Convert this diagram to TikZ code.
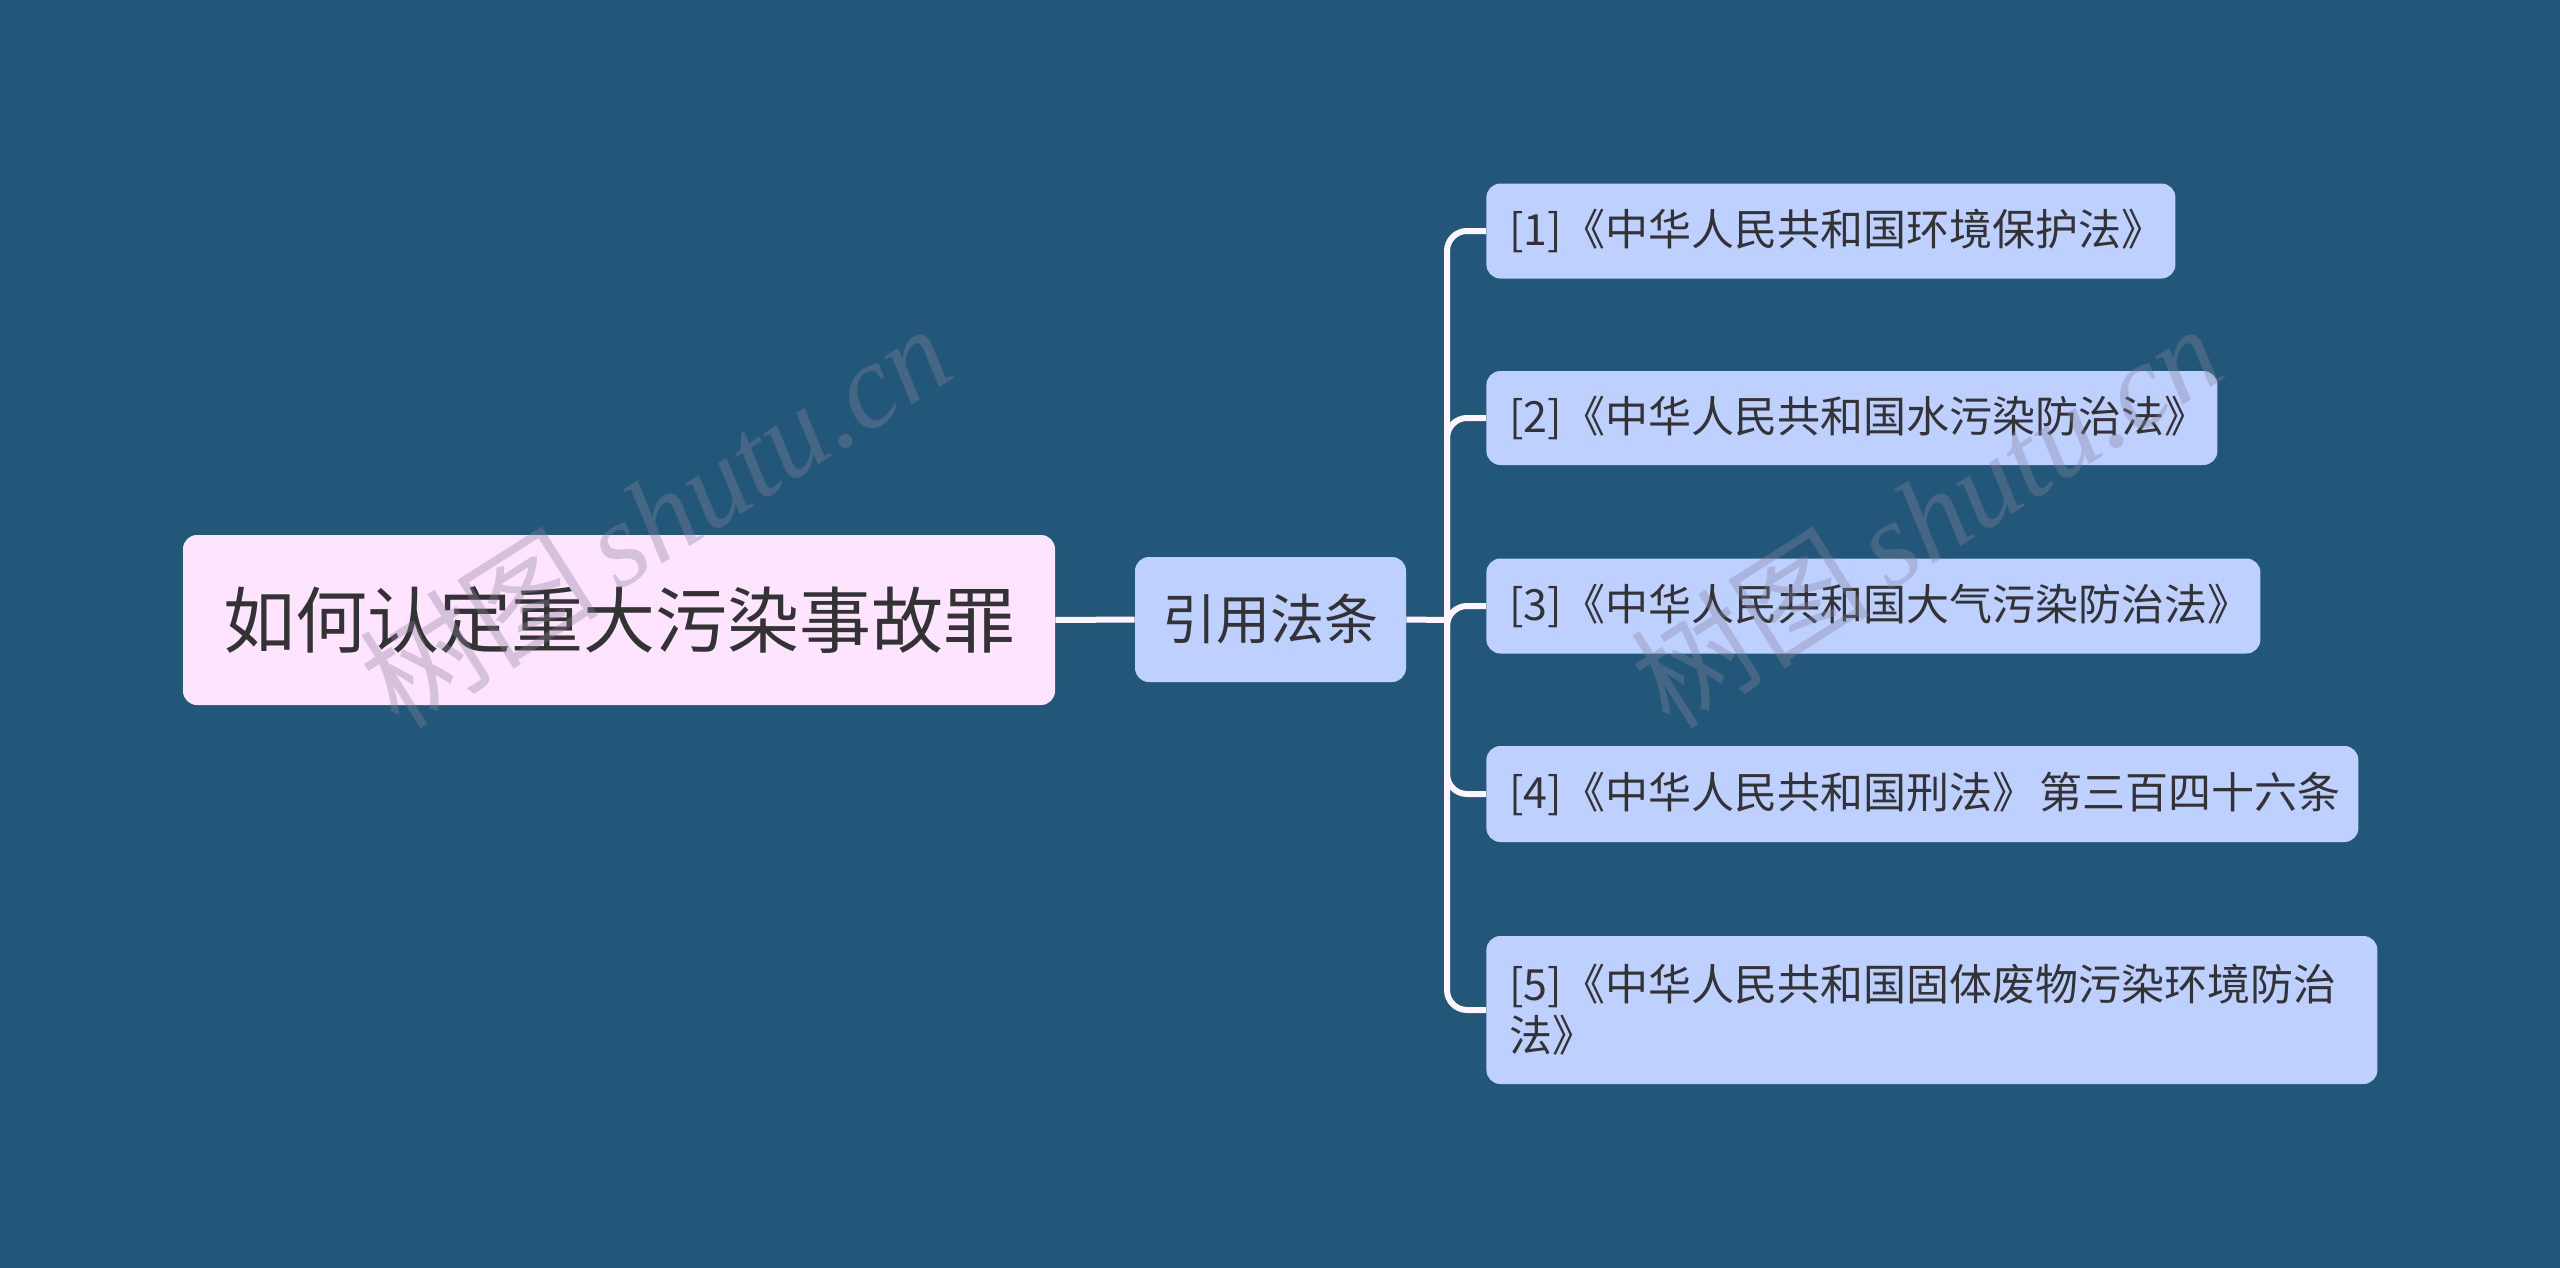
\documentclass[tikz,border=0pt]{standalone}
\usepackage{fontspec}
\setmainfont{Noto Sans CJK SC}
\newfontfamily\wmlatin{Liberation Serif}
\newfontfamily\wmcjk{Noto Sans CJK SC}
\definecolor{bgc}{RGB}{35,87,121}
\definecolor{rootfill}{RGB}{255,228,255}
\definecolor{leaffill}{RGB}{189,208,255}
\definecolor{txt}{RGB}{51,51,51}
\definecolor{linec}{RGB}{255,244,255}
\definecolor{wmc}{RGB}{135,130,155}
\begin{document}
\begin{tikzpicture}[x=0.5pt,y=-0.5pt,
  box/.style={rounded corners=7pt, inner sep=0pt, text=txt},
  rootbox/.style={box, fill=rootfill, minimum width=436pt, minimum height=85pt, font=\fontsize{36}{40}\selectfont},
  midbox/.style={box, fill=leaffill, minimum width=135.5pt, minimum height=62.5pt, font=\fontsize{27}{32}\selectfont},
  leafbox/.style={box, fill=leaffill, anchor=west, inner xsep=11.5pt, inner ysep=0pt, align=left, font=\fontsize{21.5}{25.5}\selectfont},
  conn/.style={draw=linec, line width=3pt, rounded corners=10pt},
  wm/.style={text=wmc, opacity=0.35, font=\fontsize{60}{62}\selectfont}
]
\fill[bgc] (0,0) rectangle (2560,1268);
\useasboundingbox (0,0) rectangle (2560,1268);

\node[rootbox] (root) at (619,620) {如何认定重大污染事故罪};
\node[midbox] (mid) at (1270.5,619.5) {引用法条};

\node[leafbox, text width=321.5pt, minimum height=47.5pt] (l1) at (1486,231) {\mbox{[1]《中华人民共和国环境保护法》}};
\node[leafbox, text width=342.5pt, minimum height=47pt] (l2) at (1486,418) {\mbox{[2]《中华人民共和国水污染防治法》}};
\node[leafbox, text width=364pt, minimum height=47.5pt] (l3) at (1486,606) {\mbox{[3]《中华人民共和国大气污染防治法》}};
\node[leafbox, text width=413pt, minimum height=48pt] (l4) at (1486,794) {\mbox{[4]《中华人民共和国刑法》\hspace{0.1em}第三百四十六条}};
\node[leafbox, text width=422.5pt, minimum height=74pt] (l5) at (1486,1010) {\mbox{[5]《中华人民共和国固体废物污染环境防治}\\法》};

\coordinate (sp) at (1447,620);
\draw[conn] (root.east) -- (mid.west);
\draw[conn] (mid.east) -- (sp);
\foreach \n in {l1,l2,l3,l4,l5}{
  \draw[conn] (sp) |- (\n.west);
}

\node[wm, rotate=32.4] (wm1) at (655,515) {{\wmcjk 树图}\,{\wmlatin\itshape shutu.cn}};
\node[wm, rotate=32.4] (wm2) at (1926,515) {{\wmcjk 树图}\,{\wmlatin\itshape shutu.cn}};
\end{tikzpicture}
\end{document}
